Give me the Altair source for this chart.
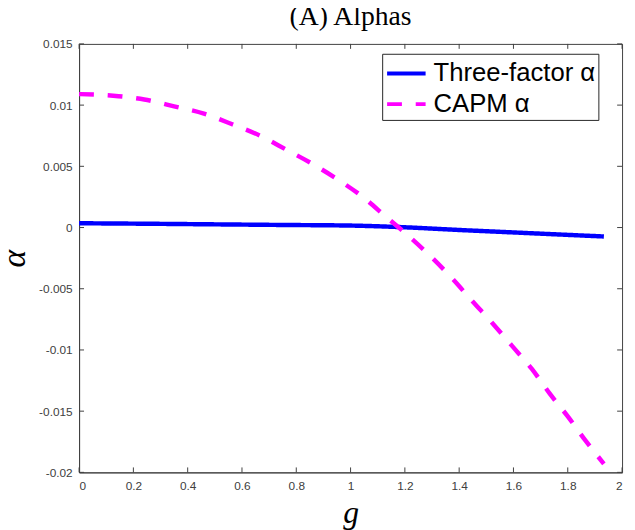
import altair as alt
import pandas as pd

# ---- data ----
g_capm = [0, 0.145, 0.24, 0.35, 0.46, 0.564, 0.667, 0.764, 0.86, 0.958, 1.048, 1.133,
          1.212, 1.297, 1.376, 1.448, 1.521, 1.594, 1.667, 1.733, 1.8, 1.867, 1.933]
capm_alpha = [0.0109, 0.01073, 0.01046, 0.0099, 0.0093, 0.00844, 0.0075, 0.00635, 0.00519,
              0.00385, 0.00245, 0.00083, -0.00065, -0.0024, -0.0042, -0.006, -0.00777,
              -0.00965, -0.01153, -0.01355, -0.01543, -0.01745, -0.0193]

g_three = [0, 0.25, 0.5, 0.75, 1.0, 1.2, 1.4, 1.6, 1.8, 1.933]
three_alpha = [0.00035, 0.00031, 0.00026, 0.00021, 0.00016, 0.00002, -0.0002, -0.0004,
               -0.0006, -0.00073]

series_names = ["Three-factor α", "CAPM α"]
series_colors = ["#0000FF", "#FF00FF"]

x_ticks = [0, 0.2, 0.4, 0.6, 0.8, 1, 1.2, 1.4, 1.6, 1.8, 2]
y_ticks = [-0.02, -0.015, -0.01, -0.005, 0, 0.005, 0.01, 0.015]

W, H = 550, 434

df = pd.concat([
    pd.DataFrame({"g": g_three, "alpha": three_alpha, "series": series_names[0]}),
    pd.DataFrame({"g": g_capm, "alpha": capm_alpha, "series": series_names[1]}),
])
xt = pd.DataFrame({"v": x_ticks})
yt = pd.DataFrame({"v": y_ticks})

xscale = alt.Scale(domain=[0, 2], nice=False, zero=False)
yscale = alt.Scale(domain=[-0.02, 0.015], nice=False, zero=False)

lines = alt.Chart(df).mark_line(strokeWidth=4.5, strokeCap="butt", interpolate="monotone").encode(
    x=alt.X("g:Q", scale=xscale,
            axis=alt.Axis(values=x_ticks, labelExpr="toString(datum.value)", tickSize=0,
                          grid=False, labelPadding=8, title="g",
                          titleFont="Liberation Serif", titleFontStyle="italic",
                          titleFontWeight="normal", titleFontSize=32,
                          titleBaseline="alphabetic", titleY=51, titleColor="black")),
    y=alt.Y("alpha:Q", scale=yscale,
            axis=alt.Axis(values=y_ticks, labelExpr="toString(datum.value)", tickSize=0,
                          grid=False, labelPadding=7, title="α",
                          titleFont="Liberation Serif", titleFontStyle="italic",
                          titleFontWeight="normal", titleFontSize=34, titleAngle=270,
                          titleBaseline="alphabetic", titleX=-55, titleColor="black")),
    color=alt.Color("series:N",
                    scale=alt.Scale(domain=series_names, range=series_colors),
                    legend=alt.Legend(title=None)),
    strokeDash=alt.StrokeDash("series:N",
                              scale=alt.Scale(domain=series_names, range=[[1, 0], [15, 14]]),
                              legend=alt.Legend(title=None)),
)

tick_style = dict(color="#404040", strokeWidth=1)
xb = alt.Chart(xt).mark_rule(**tick_style).encode(
    x=alt.X("v:Q", scale=xscale), y=alt.value(H), y2=alt.value(H - 5))
xtp = alt.Chart(xt).mark_rule(**tick_style).encode(
    x=alt.X("v:Q", scale=xscale), y=alt.value(0), y2=alt.value(5))
yl = alt.Chart(yt).mark_rule(**tick_style).encode(
    y=alt.Y("v:Q", scale=yscale), x=alt.value(0), x2=alt.value(5))
yr = alt.Chart(yt).mark_rule(**tick_style).encode(
    y=alt.Y("v:Q", scale=yscale), x=alt.value(W), x2=alt.value(W - 5))

chart = alt.layer(lines, xb, xtp, yl, yr).properties(
    width=W, height=H,
    title=alt.TitleParams("(A) Alphas", font="Liberation Serif", fontSize=28,
                          fontWeight="normal", color="black", anchor="middle",
                          frame="group", baseline="bottom", offset=8, dy=29),
    autosize=alt.AutoSizeParams(type="none"),
    padding={"left": 72, "top": 33, "right": 5, "bottom": 55},
).configure_view(
    stroke="#404040", strokeWidth=1
).configure_axis(
    labelFont="Liberation Sans", labelFontSize=12, labelColor="#404040",
    domainColor="#404040", domainWidth=1,
).configure_legend(
    orient="none", legendX=307, legendY=10, fillColor="white", strokeColor="#262626",
    padding=3, rowPadding=1, labelFont="Liberation Sans", labelFontSize=26,
    labelColor="black", symbolType="M-1,0H1.6", symbolSize=900, symbolStrokeWidth=4,
    labelOffset=15, cornerRadius=0, labelLimit=400,
)

chart.save("out.html", embed_options={"renderer": "svg", "actions": False})
